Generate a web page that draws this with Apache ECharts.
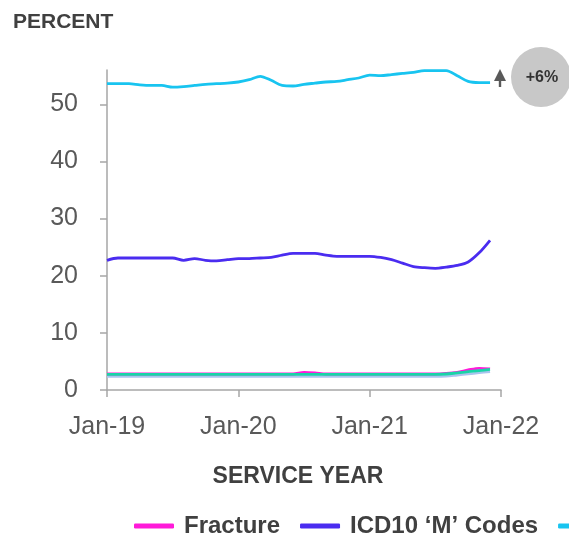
<!DOCTYPE html>
<html>
<head>
<meta charset="utf-8">
<script src="https://cdn.jsdelivr.net/npm/echarts@6/dist/echarts.min.js"></script>
<style>
    html, body { margin: 0; padding: 0; background: #fff; }
    #lineChart { width: 569px; height: 538px; }
</style>
</head>
<body>
<div id="lineChart"></div>
<script>
var months = ['Jan-19', 'Feb-19', 'Mar-19', 'Apr-19', 'May-19', 'Jun-19', 'Jul-19', 'Aug-19', 'Sep-19', 'Oct-19', 'Nov-19', 'Dec-19',
    'Jan-20', 'Feb-20', 'Mar-20', 'Apr-20', 'May-20', 'Jun-20', 'Jul-20', 'Aug-20', 'Sep-20', 'Oct-20', 'Nov-20', 'Dec-20',
    'Jan-21', 'Feb-21', 'Mar-21', 'Apr-21', 'May-21', 'Jun-21', 'Jul-21', 'Aug-21', 'Sep-21', 'Oct-21', 'Nov-21', 'Dec-21',
    'Jan-22'];
var yTicks = [0, 10, 20, 30, 40, 50];

var seriesNames = ['Fracture', 'ICD10 \u2018M\u2019 Codes', 'All Other', 'Injury', 'Other'];

var fracture = [2.8, 2.8, 2.8, 2.8, 2.8, 2.8, 2.8, 2.8, 2.8, 2.8, 2.8, 2.8,
    2.8, 2.8, 2.8, 2.8, 2.8, 2.8, 3.1, 3.0, 2.8, 2.8, 2.8, 2.8,
    2.8, 2.8, 2.8, 2.8, 2.8, 2.8, 2.8, 2.9, 3.1, 3.5, 3.8, 3.7];
var icd10M = [22.7, 23.1, 23.1, 23.1, 23.1, 23.1, 23.1, 22.7, 23.0, 22.7, 22.6, 22.8,
    23.0, 23.0, 23.1, 23.2, 23.6, 23.9, 23.9, 23.9, 23.6, 23.4, 23.4, 23.4,
    23.4, 23.2, 22.8, 22.2, 21.6, 21.4, 21.3, 21.5, 21.8, 22.4, 24.0, 26.2];
var allOther = [53.6, 53.6, 53.6, 53.4, 53.3, 53.3, 53.0, 53.1, 53.3, 53.5, 53.6, 53.7,
    53.9, 54.3, 54.9, 54.2, 53.3, 53.2, 53.5, 53.7, 53.9, 54.0, 54.3, 54.6,
    55.1, 55.0, 55.2, 55.4, 55.6, 55.9, 55.9, 55.9, 55.0, 54.0, 53.8, 53.8];
var injury = [2.75, 2.75, 2.75, 2.75, 2.75, 2.75, 2.75, 2.75, 2.75, 2.75, 2.75, 2.75,
    2.75, 2.75, 2.75, 2.75, 2.75, 2.75, 2.75, 2.75, 2.75, 2.75, 2.75, 2.75,
    2.75, 2.75, 2.75, 2.75, 2.75, 2.75, 2.75, 2.8, 3.0, 3.2, 3.4, 3.6];
var other = [2.35, 2.35, 2.35, 2.35, 2.35, 2.35, 2.35, 2.35, 2.35, 2.35, 2.35, 2.35,
    2.35, 2.35, 2.35, 2.35, 2.35, 2.35, 2.35, 2.35, 2.35, 2.35, 2.35, 2.35,
    2.35, 2.35, 2.35, 2.35, 2.35, 2.35, 2.35, 2.4, 2.6, 2.8, 3.0, 3.2];

var colors = ['#ff1ad9', '#4a2cf0', '#18c4f0', '#19d4a8', '#a9c4ee'];
var changeText = '+6%';

function makeLine(name, data, color, width) {
    return {
        name: name,
        type: 'line',
        data: data,
        symbol: 'none',
        smooth: 0.3,
        color: color,
        lineStyle: { width: width, color: color }
    };
}

var myChart = echarts.init(document.getElementById('lineChart'), null, { renderer: 'canvas' });

var option = {
    animation: false,
    textStyle: { fontFamily: 'Liberation Sans, Arial, sans-serif' },
    title: {
        text: 'PERCENT',
        left: 8,
        top: 7,
        textStyle: { fontSize: 21, fontWeight: 'bold', color: '#404040' }
    },
    grid: { left: 107, right: 68, top: 70, bottom: 148 },
    legend: {
        data: seriesNames,
        left: 129,
        top: 509,
        width: 1200,
        icon: 'roundRect',
        itemWidth: 40,
        itemHeight: 5,
        itemGap: 20,
        textStyle: { fontSize: 24, fontWeight: 'bold', color: '#404040', padding: [0, 0, 0, 5] }
    },
    xAxis: {
        type: 'category',
        data: months,
        boundaryGap: false,
        name: 'SERVICE YEAR',
        nameLocation: 'middle',
        nameGap: 75,
        nameTextStyle: { fontSize: 23, fontWeight: 'bold', color: '#404040', padding: [0, 12, 0, 0] },
        axisLine: { lineStyle: { color: '#a6a6a6', width: 1.5 } },
        axisTick: { interval: 11, length: 7, lineStyle: { color: '#a6a6a6', width: 1.5 } },
        axisLabel: { interval: 11, margin: 25, fontSize: 25, color: '#595959' },
        splitLine: { show: false }
    },
    yAxis: {
        type: 'value',
        min: 0,
        max: 56,
        interval: 10,
        axisLine: { show: true, lineStyle: { color: '#a6a6a6', width: 1.5 } },
        axisTick: { show: true, length: 7, customValues: yTicks, lineStyle: { color: '#a6a6a6', width: 1.5 } },
        axisLabel: { customValues: yTicks, margin: 29, fontSize: 25, color: '#595959' },
        splitLine: { show: false }
    },
    series: [
        makeLine(seriesNames[2], allOther, colors[2], 2.8),
        makeLine(seriesNames[1], icd10M, colors[1], 2.8),
        makeLine(seriesNames[4], other, colors[4], 2.5),
        makeLine(seriesNames[0], fracture, colors[0], 2.8),
        makeLine(seriesNames[3], injury, colors[3], 2.8)
    ],
    graphic: [
        {
            type: 'circle',
            shape: { cx: 541, cy: 77, r: 30 },
            style: { fill: '#c8c8c8' }
        },
        {
            type: 'text',
            x: 542,
            y: 78,
            style: {
                text: changeText,
                align: 'center',
                verticalAlign: 'middle',
                font: 'bold 16px Liberation Sans, Arial, sans-serif',
                fill: '#333333'
            }
        },
        {
            type: 'polygon',
            shape: { points: [[500, 69], [506, 81], [494, 81]] },
            style: { fill: '#595959' }
        },
        {
            type: 'rect',
            shape: { x: 498.8, y: 80, width: 2.4, height: 7 },
            style: { fill: '#595959' }
        }
    ]
};

myChart.setOption(option);
</script>
</body>
</html>
